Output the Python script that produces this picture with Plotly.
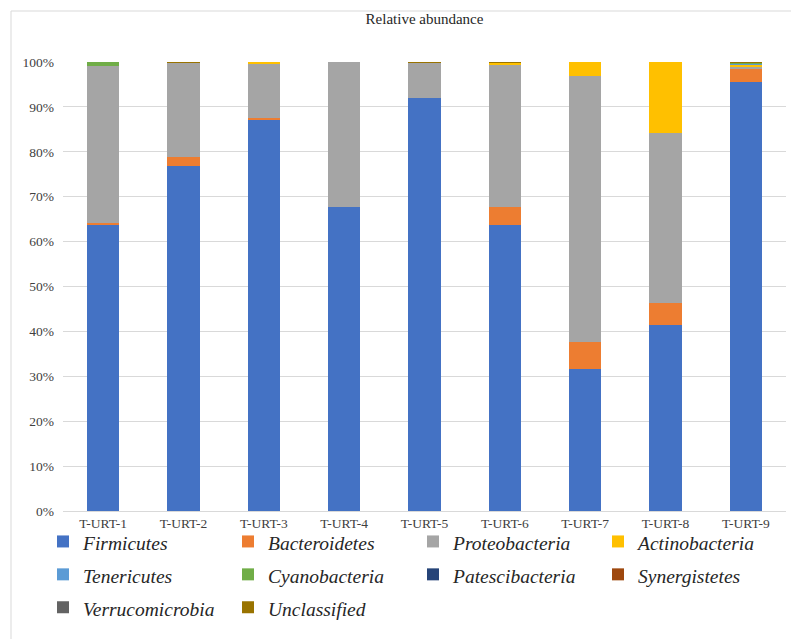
import plotly.graph_objects as go

samples = ["T-URT-1", "T-URT-2", "T-URT-3", "T-URT-4", "T-URT-5",
           "T-URT-6", "T-URT-7", "T-URT-8", "T-URT-9"]

firmicutes      = [63.6, 76.8, 87.2, 67.8, 92.0, 63.6, 31.7, 41.4, 95.5]
bacteroidetes   = [0.5, 2.0, 0.4, 0.0, 0.0, 4.1, 6.0, 4.9, 2.9]
proteobacteria  = [35.1, 21.0, 11.9, 32.2, 7.8, 31.8, 59.1, 37.9, 0.7]
actinobacteria  = [0.0, 0.1, 0.5, 0.0, 0.1, 0.4, 3.2, 15.8, 0.4]
tenericutes     = [0.0, 0.0, 0.0, 0.0, 0.0, 0.0, 0.0, 0.0, 0.1]
cyanobacteria   = [0.8, 0.0, 0.0, 0.0, 0.0, 0.0, 0.0, 0.0, 0.2]
patescibacteria = [0.0, 0.0, 0.0, 0.0, 0.0, 0.0, 0.0, 0.0, 0.0]
synergistetes   = [0.0, 0.0, 0.0, 0.0, 0.0, 0.0, 0.0, 0.0, 0.0]
verrucomicrobia = [0.0, 0.0, 0.0, 0.0, 0.0, 0.0, 0.0, 0.0, 0.0]
unclassified    = [0.0, 0.1, 0.0, 0.0, 0.1, 0.1, 0.0, 0.0, 0.2]

series = [
    ("Firmicutes", firmicutes, "#4472C4"),
    ("Bacteroidetes", bacteroidetes, "#ED7D31"),
    ("Proteobacteria", proteobacteria, "#A5A5A5"),
    ("Actinobacteria", actinobacteria, "#FFC000"),
    ("Tenericutes", tenericutes, "#5B9BD5"),
    ("Cyanobacteria", cyanobacteria, "#70AD47"),
    ("Patescibacteria", patescibacteria, "#264478"),
    ("Synergistetes", synergistetes, "#9E480E"),
    ("Verrucomicrobia", verrucomicrobia, "#636363"),
    ("Unclassified", unclassified, "#997300"),
]

FONT = "Liberation Serif, Tinos, Times New Roman, Times, serif"

fig = go.Figure()
for name, vals, color in series:
    fig.add_trace(go.Bar(
        x=samples, y=vals,
        name=f'<span style="font-size:19.5px"><i>{name}</i></span>',
        marker=dict(color=color, line=dict(width=0)),
    ))

L, R, T, B = 55, 21, 54, 136
PW, PH = 799 - L - R, 639 - T - B

fig.update_layout(
    barmode="stack",
    bargap=0.6,
    width=799, height=639,
    margin=dict(l=L, r=R, t=T, b=B, autoexpand=False),
    paper_bgcolor="white",
    plot_bgcolor="white",
    font=dict(family=FONT, size=13, color="#404040"),
    title=dict(text="Relative abundance", x=0.5, xref="paper",
               y=1 - 11 / 639, yref="container", yanchor="middle",
               font=dict(family=FONT, size=15, color="#262626")),
    showlegend=True,
    legend=dict(
        orientation="h",
        xref="paper", yref="paper",
        x=(35 - L) / PW, xanchor="left",
        y=-(512 - 503) / PH, yanchor="top",
        entrywidth=140, entrywidthmode="pixels",
        font=dict(family=FONT, size=23, color="#262626"),
        bgcolor="rgba(0,0,0,0)",
        traceorder="normal",
        itemwidth=30,
    ),
    shapes=[dict(type="rect", xref="paper", yref="paper",
                 x0=(3 - L) / PW, x1=(796 - L) / PW,
                 y0=-(636 - 503) / PH, y1=1 + (T - 3) / PH,
                 line=dict(color="#D9D9D9", width=1))],
)

fig.update_xaxes(
    showgrid=False, showline=True, linecolor="#D9D9D9", linewidth=1,
    ticks="", tickfont=dict(family=FONT, size=13.5, color="#404040"),
)
fig.update_yaxes(
    range=[0, 100], dtick=10, ticksuffix="%",
    showgrid=True, gridcolor="#D9D9D9", gridwidth=1,
    zeroline=False, showline=False, ticks="",
    ticklabelstandoff=8,
    tickfont=dict(family=FONT, size=13.5, color="#404040"),
)

fig.write_html("out.html")
